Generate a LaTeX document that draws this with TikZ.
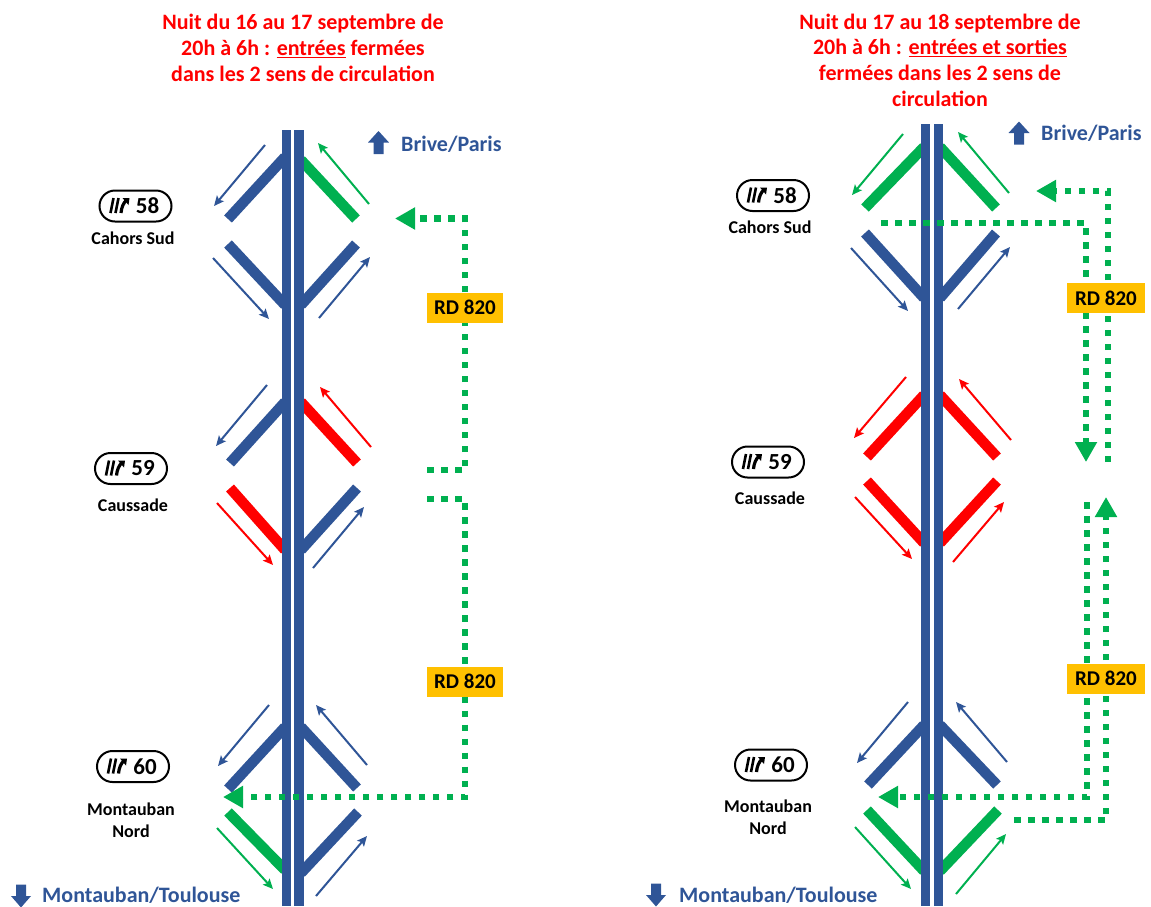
\documentclass[tikz,border=0pt]{standalone}
\usepackage{fontspec}
\setmainfont{Carlito}
\usetikzlibrary{arrows.meta}

\definecolor{roadblue}{HTML}{2F5597}
\definecolor{routegreen}{HTML}{00B050}
\definecolor{rdorange}{HTML}{FFC000}

\tikzset{
	roadline/.style={roadblue, line width=9.4pt},
	ramp/.style={line width=10.5pt},
	flow/.style={line width=2pt, -{Stealth[length=10pt,width=9pt,inset=2pt]}},
	route/.style={routegreen, line width=6.5pt, dash pattern=on 6.5pt off 7.5pt},
	routehead/.style={route, -{Triangle[length=20pt,width=21pt]}},
	rdbox/.style={fill=rdorange, minimum width=76pt, minimum height=30pt, inner sep=0pt, font=\fontsize{21}{24}\selectfont\bfseries},
	pill/.style={draw, line width=2pt, rounded corners=15.5pt, minimum width=72pt, minimum height=31pt, inner sep=0pt, font=\fontsize{23}{24}\selectfont\bfseries},
	place/.style={align=center, inner sep=0pt, font=\fontsize{18}{22}\selectfont\bfseries},
	heading/.style={red, align=center, inner sep=0pt, font=\fontsize{22}{25.7}\selectfont\bfseries},
	towards/.style={roadblue, inner sep=0pt, font=\fontsize{22}{24}\selectfont\bfseries},
	sortie/.pic={
		\draw[line width=2.6pt] (-25,7) -- (-22,-8);
		\draw[line width=2.6pt] (-20,7) -- (-17,-8);
		\draw[line width=3.2pt] (-14.5,7) .. controls (-14,1) and (-12,-3) .. (-9,-6);
		\fill (-13,-8) -- (-6,-8) -- (-7,-1) -- cycle;
	},
	upwards/.pic={
		\fill[roadblue] (-5,11.5) -- (-5,0) -- (-10.5,0) -- (0,-11.5) -- (10.5,0) -- (5,0) -- (5,11.5) -- cycle;
	},
	downwards/.pic={
		\fill[roadblue] (-5,-11.5) -- (-5,0) -- (-10,0) -- (0,11.5) -- (10,0) -- (5,0) -- (5,-11.5) -- cycle;
	}
}

\begin{document}
\begin{tikzpicture}[x=1pt, y=-1pt]
	\useasboundingbox (0,0) rectangle (1151,906);

	% left panel
	\draw[ramp, roadblue] (228,219) -- (285,157);
	\draw[ramp, routegreen] (356,219) -- (301,160);
	\draw[ramp, roadblue] (228,244) -- (285,305);
	\draw[ramp, roadblue] (356,244) -- (301,305);
	\draw[flow, roadblue] (265,145) -- (214,206);
	\draw[flow, routegreen] (369,204) -- (318,143);
	\draw[flow, roadblue] (213,258) -- (269,319);
	\draw[flow, roadblue] (319,318) -- (370,257);

	\draw[ramp, roadblue] (230,463) -- (285,402);
	\draw[ramp, red] (357,463) -- (301,402);
	\draw[ramp, red] (230,488) -- (285,550);
	\draw[ramp, roadblue] (357,488) -- (301,550);
	\draw[flow, roadblue] (267,385) -- (216,446);
	\draw[flow, red] (371,447) -- (320,387);
	\draw[flow, red] (217,503) -- (273,565);
	\draw[flow, roadblue] (313,568) -- (364,507);

	\draw[ramp, roadblue] (228,789) -- (285,727);
	\draw[ramp, roadblue] (357,788) -- (301,727);
	\draw[ramp, routegreen] (228,812) -- (285,870);
	\draw[ramp, roadblue] (358,812) -- (301,873);
	\draw[flow, roadblue] (269,705) -- (218,766);
	\draw[flow, roadblue] (367,765) -- (316,705);
	\draw[flow, routegreen] (217,828) -- (273,889);
	\draw[flow, roadblue] (316,896) -- (367,836);

	\draw[roadline] (286.5,130) -- (286.5,906);
	\draw[roadline] (299,130) -- (299,906);

	% right panel
	\draw[ramp, routegreen] (865,208) -- (924,147);
	\draw[ramp, routegreen] (996,208) -- (940,147);
	\draw[ramp, roadblue] (865,233) -- (924,298);
	\draw[ramp, roadblue] (996,233) -- (940,298);
	\draw[flow, routegreen] (903,134) -- (852,195);
	\draw[flow, routegreen] (1009,193) -- (958,132);
	\draw[flow, roadblue] (851,248) -- (908,311);
	\draw[flow, roadblue] (958,309) -- (1010,247);

	\draw[ramp, red] (867,457) -- (924,395);
	\draw[ramp, red] (997,457) -- (940,395);
	\draw[ramp, red] (867,481) -- (924,543);
	\draw[ramp, red] (997,481) -- (940,543);
	\draw[flow, red] (906,377) -- (854,438);
	\draw[flow, red] (1011,440) -- (959,379);
	\draw[flow, red] (855,497) -- (912,559);
	\draw[flow, red] (953,562) -- (1004,502);

	\draw[ramp, roadblue] (868,785) -- (924,725);
	\draw[ramp, roadblue] (997,785) -- (940,725);
	\draw[ramp, routegreen] (867,810) -- (924,871);
	\draw[ramp, routegreen] (998,810) -- (940,871);
	\draw[flow, roadblue] (908,702) -- (857,763);
	\draw[flow, roadblue] (1007,762) -- (956,702);
	\draw[flow, routegreen] (855,827) -- (911,889);
	\draw[flow, routegreen] (956,894) -- (1006,834);

	\draw[roadline] (925.5,124) -- (925.5,906);
	\draw[roadline] (938.5,124) -- (938.5,906);

	% RD 820 boxes
	\node[rdbox] (rdA) at (465,307.5) {RD 820};
	\node[rdbox] (rdB) at (465,681.5) {RD 820};

	\coordinate (gapA) at (427,470);
	\coordinate (gapB) at (427,499);
	\coordinate (tip58) at (395,218.5);
	\coordinate (tip60) at (223,797);
	\draw[route] (gapA) -| (rdA);
	\draw[routehead] (rdA) |- (tip58);
	\draw[route] (gapB) -| (rdB);
	\draw[routehead] (rdB) |- (tip60);

	\coordinate (eastA) at (1108,462);
	\coordinate (tipR58) at (1036,191);
	\coordinate (cross58) at (881,223);
	\coordinate (tipR59) at (1086,462);
	\coordinate (startR60) at (1014,820);
	\coordinate (tipR60up) at (1106,497);
	\coordinate (westB) at (1087,502);
	\coordinate (tipR60) at (878,797);
	\draw[routehead] (eastA) |- (tipR58);
	\draw[routehead] (cross58) -| (tipR59);
	\draw[routehead] (startR60) -| (tipR60up);
	\draw[routehead] (westB) |- (tipR60);

	\node[rdbox, minimum width=78pt] (rdC) at (1106,298) {RD 820};
	\node[rdbox, minimum width=78pt] (rdD) at (1106,678.5) {RD 820};

	% headings
	\node[heading] (titleA) at (303,48) {Nuit du 16 au 17 septembre de\\20h à 6h : \underline{entrées} fermées\\dans les 2 sens de circulation};
	\node[heading] (titleB) at (940,60) {Nuit du 17 au 18 septembre de\\20h à 6h : \underline{entrées et sorties}\\fermées dans les 2 sens de\\circulation};

	% directions
	\pic at (378.5,142.5) {upwards};
	\node[towards, anchor=west] (briveA) at (401,144) {Brive/Paris};
	\pic at (1019,133) {upwards};
	\node[towards, anchor=west] (briveB) at (1041,133) {Brive/Paris};
	\pic at (21,896) {downwards};
	\node[towards, anchor=west] (toulouseA) at (42,895) {Montauban/Toulouse};
	\pic at (656,895) {downwards};
	\node[towards, anchor=west] (toulouseB) at (679,895) {Montauban/Toulouse};

	% exits
	\node[pill] (exitA58) at (135.5,206) {\hspace*{24pt}58};
	\node[pill] (exitA59) at (131,468.5) {\hspace*{24pt}59};
	\node[pill] (exitA60) at (133,766.5) {\hspace*{24pt}60};
	\node[pill] (exitB58) at (773,195.5) {\hspace*{24pt}58};
	\node[pill] (exitB59) at (768,462) {\hspace*{24pt}59};
	\node[pill] (exitB60) at (771,765) {\hspace*{24pt}60};
	\pic at (exitA58) {sortie};
	\pic at (exitA59) {sortie};
	\pic at (exitA60) {sortie};
	\pic at (exitB58) {sortie};
	\pic at (exitB59) {sortie};
	\pic at (exitB60) {sortie};

	\node[place] (cahorsA) at (133,238) {Cahors Sud};
	\node[place] (caussadeA) at (133,505) {Caussade};
	\node[place] (montaubanA) at (131,820) {Montauban\\Nord};
	\node[place] (cahorsB) at (770,227) {Cahors Sud};
	\node[place] (caussadeB) at (770,498) {Caussade};
	\node[place] (montaubanB) at (768,817) {Montauban\\Nord};
\end{tikzpicture}
\end{document}
